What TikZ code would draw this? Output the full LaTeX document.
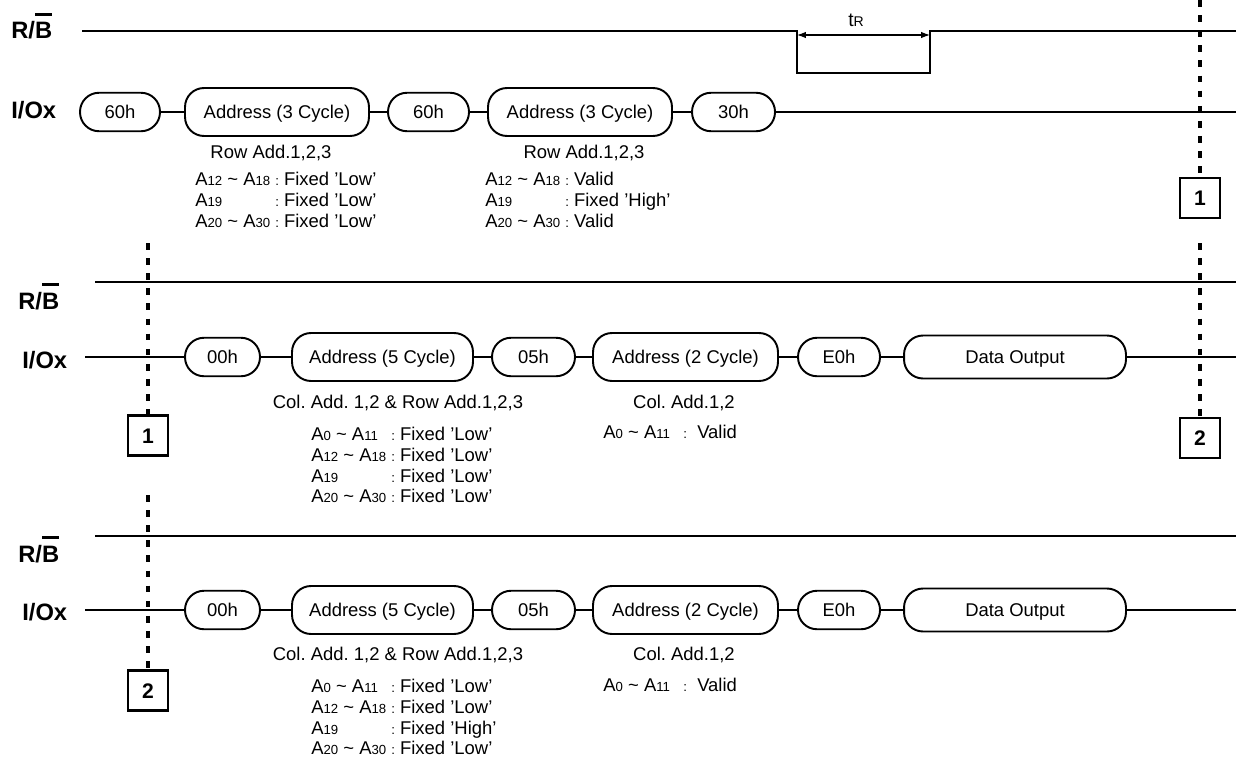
\documentclass[tikz,border=0pt]{standalone}
\usepackage{fontspec}
\setmainfont{Liberation Sans}
\usetikzlibrary{arrows.meta}
\frenchspacing
\newcommand{\subsz}{\fontsize{7.5}{8}\selectfont}
\newcommand{\An}[1]{A{\subsz #1}}
\newcommand{\rng}[2]{\An{#1} \textasciitilde{} \An{#2}}
\newcommand{\arow}[2]{\makebox[1.6cm][l]{#1}{\subsz:}\ #2}
\newcommand{\barB}{\setbox0\hbox{B}\rlap{\rule[\dimexpr\ht0+4pt\relax]{\wd0}{1.5pt}}B}

\begin{document}
\begin{tikzpicture}[x=0.02cm,y=-0.02cm,
    sig/.style={font=\fontsize{13.5}{16}\selectfont\bfseries,inner sep=0pt,anchor=base west},
    pill/.style={draw,line width=1.1pt,rectangle,rounded corners=0.38cm,
                 inner sep=0pt,minimum height=0.77cm,text height=8.5pt,text depth=1pt,
                 font=\fontsize{10.5}{12}\selectfont},
    wire/.style={line width=1.1pt},
    rbline/.style={line width=1.3pt},
    head/.style={font=\fontsize{10.5}{12}\selectfont,inner sep=0pt,
                 text height=8.5pt,text depth=1pt},
    note/.style={font=\fontsize{10.5}{11.9}\selectfont,align=left,inner sep=0pt,anchor=west},
    tag/.style={draw,line width=1.3pt,minimum size=0.8cm,inner sep=0pt,
                text height=9.6pt,text depth=1pt,font=\fontsize{12}{14}\selectfont\bfseries},
    cut/.style={line width=2pt,dash pattern=on 3.8pt off 4.8pt},
    span/.style={<->,>={Latex[length=5pt,width=3.6pt]},line width=0.6pt},
  ]
    \useasboundingbox (0,0) rectangle (1236,757);

    % row 1
    \node[sig] (rba) at (11,39)  {R/\barB};
    \node[sig] (ioa) at (11,118) {I/Ox};

    \coordinate (rbas) at (82,31);
    \coordinate (fall) at (797,31);
    \coordinate (rise) at (930,31);
    \coordinate (rbae) at (1236,31);
    \draw[rbline] (rbas) -- (fall) -- ++(0,42) -| (rise) -- (rbae);
    \coordinate (tra) at (797,35);
    \coordinate (trb) at (930,35);
    \draw[span] (tra) -- (trb);
    \node[anchor=base,inner sep=0pt,font=\fontsize{11}{12}\selectfont] (tr) at (856,27)
      {t{\fontsize{8}{9}\selectfont R}};

    \node[pill,minimum width=1.6cm]  (c60a) at (120,112)   {60h};
    \node[pill,minimum width=3.68cm,minimum height=0.96cm] (ad3a) at (277,112) {Address (3 Cycle)};
    \node[pill,minimum width=1.62cm] (c60b) at (428.5,112) {60h};
    \node[pill,minimum width=3.68cm,minimum height=0.96cm] (ad3b) at (580,112) {Address (3 Cycle)};
    \node[pill,minimum width=1.66cm] (c30a) at (733.5,112) {30h};
    \coordinate (ioae) at (1236,112);
    \foreach \a/\b in {c60a/ad3a,ad3a/c60b,c60b/ad3b,ad3b/c30a,c30a/ioae}
      \draw[wire] (\a) -- (\b);

    \node[head] (rowa) at (271,152) {Row Add.1,2,3};
    \node[note] (nota) at (195,200)
      {\arow{\rng{12}{18}}{Fixed 'Low'}\\ \arow{\An{19}}{Fixed 'Low'}\\ \arow{\rng{20}{30}}{Fixed 'Low'}};
    \node[head] (rowb) at (584,152) {Row Add.1,2,3};
    \node[note] (notb) at (485,200)
      {\arow{\rng{12}{18}}{Valid}\\ \arow{\An{19}}{Fixed 'High'}\\ \arow{\rng{20}{30}}{Valid}};

    \node[tag] (ta1) at (1200,198) {1};
    \coordinate (da1) at (1200,0);
    \draw[cut] (da1) -- (ta1);

    % row 2
    \node[sig] (rbb) at (18,309) {R/\barB};
    \node[sig] (iob) at (22,368) {I/Ox};
    \coordinate (rbbs) at (95,282);
    \coordinate (rbbe) at (1236,282);
    \draw[rbline] (rbbs) -- (rbbe);

    \coordinate (iobs) at (85,357);
    \node[pill,minimum width=1.5cm]  (c00b) at (222.5,357) {00h};
    \node[pill,minimum width=3.62cm,minimum height=0.96cm] (ad5b) at (382.5,357) {Address (5 Cycle)};
    \node[pill,minimum width=1.66cm] (c05b) at (533.5,357) {05h};
    \node[pill,minimum width=3.7cm,minimum height=0.96cm] (ad2b) at (685.5,357) {Address (2 Cycle)};
    \node[pill,minimum width=1.64cm] (ce0b) at (839,357) {E0h};
    \node[pill,minimum width=4.44cm,minimum height=0.86cm] (datb) at (1015,357) {Data Output};
    \coordinate (iobe) at (1236,357);
    \foreach \a/\b in {iobs/c00b,c00b/ad5b,ad5b/c05b,c05b/ad2b,ad2b/ce0b,ce0b/datb,datb/iobe}
      \draw[wire] (\a) -- (\b);

    \node[head] (colb) at (398,402) {Col. Add. 1,2 \& Row Add.1,2,3};
    \node[note] (notc) at (311,465)
      {\arow{\rng{0}{11}}{Fixed 'Low'}\\ \arow{\rng{12}{18}}{Fixed 'Low'}\\
       \arow{\An{19}}{Fixed 'Low'}\\ \arow{\rng{20}{30}}{Fixed 'Low'}};
    \node[head] (cold) at (684,402) {Col. Add.1,2};
    \node[note] (notd) at (603,432) {\arow{\rng{0}{11}}{\ Valid}};

    \node[tag] (tb1) at (148,435.5) {1};
    \coordinate (db1) at (148,243);
    \draw[cut] (db1) -- (tb1);
    \node[tag] (tb2) at (1200,438) {2};
    \coordinate (db2) at (1200,243);
    \draw[cut] (db2) -- (tb2);

    % row 3
    \node[sig] (rbc) at (18,562) {R/\barB};
    \node[sig] (ioc) at (22,620) {I/Ox};
    \coordinate (rbcs) at (95,536);
    \coordinate (rbce) at (1236,536);
    \draw[rbline] (rbcs) -- (rbce);

    \coordinate (iocs) at (85,610);
    \node[pill,minimum width=1.5cm]  (c00c) at (222.5,610) {00h};
    \node[pill,minimum width=3.62cm,minimum height=0.96cm] (ad5c) at (382.5,610) {Address (5 Cycle)};
    \node[pill,minimum width=1.66cm] (c05c) at (533.5,610) {05h};
    \node[pill,minimum width=3.7cm,minimum height=0.96cm] (ad2c) at (685.5,610) {Address (2 Cycle)};
    \node[pill,minimum width=1.64cm] (ce0c) at (839,610) {E0h};
    \node[pill,minimum width=4.44cm,minimum height=0.86cm] (datc) at (1015,610) {Data Output};
    \coordinate (ioce) at (1236,610);
    \foreach \a/\b in {iocs/c00c,c00c/ad5c,ad5c/c05c,c05c/ad2c,ad2c/ce0c,ce0c/datc,datc/ioce}
      \draw[wire] (\a) -- (\b);

    \node[head] (cole) at (398,654) {Col. Add. 1,2 \& Row Add.1,2,3};
    \node[note] (note) at (311,717)
      {\arow{\rng{0}{11}}{Fixed 'Low'}\\ \arow{\rng{12}{18}}{Fixed 'Low'}\\
       \arow{\An{19}}{Fixed 'High'}\\ \arow{\rng{20}{30}}{Fixed 'Low'}};
    \node[head] (colf) at (684,654) {Col. Add.1,2};
    \node[note] (notf) at (603,685) {\arow{\rng{0}{11}}{\ Valid}};

    \node[tag] (tc2) at (148,690.5) {2};
    \coordinate (dc2) at (148,495);
    \draw[cut] (dc2) -- (tc2);

  \end{tikzpicture}
\end{document}
